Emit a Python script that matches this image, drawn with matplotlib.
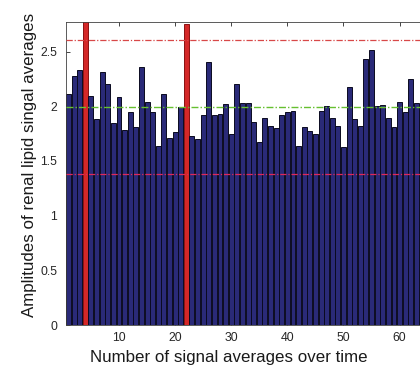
import numpy as np
import matplotlib as mlp
mlp.use("Agg")
import matplotlib.pyplot as plt

plt.rcParams['font.family'] = ['Liberation Sans', 'DejaVu Sans']

# bar heights, one per signal average (4 and 22 are the outliers, in red)
amps = [2.11, 2.28, 2.33, 3.00, 2.09, 1.88, 2.31, 2.20, 1.85, 2.08,
        1.78, 1.95, 1.81, 2.36, 2.04, 1.95, 1.64, 2.11, 1.71, 1.76,
        1.99, 2.75, 1.73, 1.70, 1.92, 2.40, 1.92, 1.93, 2.02, 1.75,
        2.20, 2.03, 2.03, 1.86, 1.67, 1.89, 1.82, 1.80, 1.92, 1.95,
        1.96, 1.64, 1.81, 1.77, 1.75, 1.96, 2.00, 1.89, 1.82, 1.63,
        2.18, 1.88, 1.82, 2.43, 2.51, 2.00, 2.01, 1.89, 1.81, 2.04,
        1.95, 2.25, 2.03]
outliers = [4, 22]
mean_line = 1.99
upper_line = 2.61
lower_line = 1.38

n = np.arange(1, len(amps) + 1)
colors = ['#d42828' if i in outliers else '#2a2a78' for i in n]
edges = ['#8a1010' if i in outliers else '#0a0a20' for i in n]

fig = plt.figure(figsize=(4.2, 3.68), dpi=100)
# axes run past the right edge, like the cropped original
ax = fig.add_axes([0.1564, 0.1168, 0.8552, 0.8234])

ax.bar(n, amps, width=0.88, color=colors, edgecolor=edges, linewidth=0.7, zorder=2)
ax.axhline(upper_line, color='#d84848', lw=0.9, ls='-.', dashes=(5, 1.5, 1, 1.5), zorder=3)
ax.axhline(mean_line, color='#66c030', lw=1.0, ls='-.', dashes=(5, 1.5, 1, 1.5), zorder=3)
ax.axhline(lower_line, color='#e0285a', lw=0.9, ls='-.', dashes=(5, 1.5, 1, 1.5), zorder=3)

ax.set_xlim(0.5, 64.5)
ax.set_ylim(0, 2.77)
ax.set_xticks([10, 20, 30, 40, 50, 60])
ax.set_yticks([0, 0.5, 1, 1.5, 2, 2.5])
ax.set_yticklabels(['0', '0.5', '1', '1.5', '2', '2.5'])
ax.tick_params(direction='in', length=3, width=0.6, colors='#262626',
               labelsize=8.8, top=True, right=False, pad=6)
ax.tick_params(axis='x', pad=5)
for s in ax.spines.values():
    s.set_color('#404040')
    s.set_linewidth(0.6)

ax.set_xlabel('Number of signal averages over time', fontsize=12.2, color='#1a1a1a')
ax.set_ylabel('Amplitudes of renal lipid singal averages', fontsize=12.2, color='#1a1a1a')
ax.xaxis.set_label_coords((229 - 65.7) / 359.2, -0.082)
ax.yaxis.set_label_coords(-0.08, (325 - 165) / 303)

plt.savefig("out.png", dpi=100)
